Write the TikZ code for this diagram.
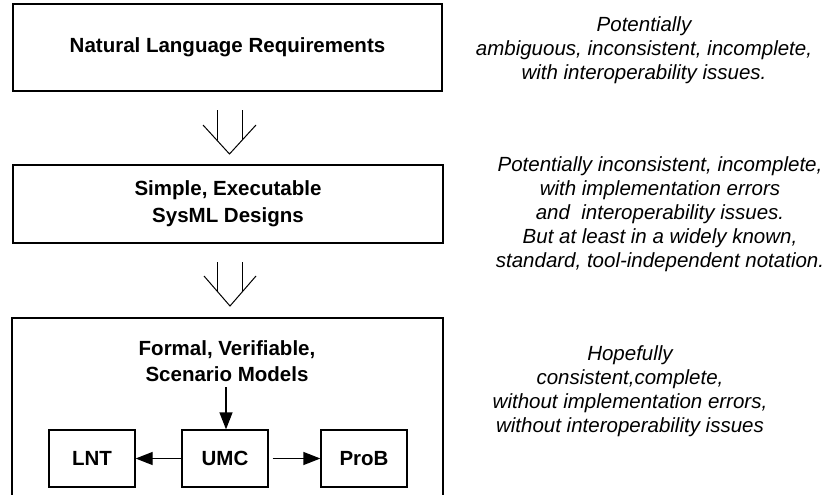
\documentclass[tikz,border=0pt]{standalone}
\usepackage{fontspec}
\setmainfont{Liberation Sans}
\usetikzlibrary{arrows.meta}
\tikzset{
  bigbox/.style={draw, line width=1.3pt, inner sep=0pt, align=center, font=\fontsize{20.5}{27}\selectfont\bfseries},
  smallbox/.style={draw, line width=1.3pt, minimum width=86pt, minimum height=57pt, inner sep=0pt, font=\fontsize{20.5}{24}\selectfont\bfseries},
  note/.style={align=center, font=\fontsize{20.5}{24}\selectfont\itshape},
  title/.style={align=center, font=\fontsize{20.5}{26}\selectfont\bfseries},
  flow/.style={line width=1.3pt, -{Triangle[length=17pt,width=13pt]}},
  hollow/.style={line width=1pt}
}
\begin{document}
\begin{tikzpicture}[x=1pt,y=-1pt]
\useasboundingbox (0,0) rectangle (830,495);
\clip (0,0) rectangle (830,495);
% main boxes
\node[bigbox, minimum width=429pt, minimum height=87pt] (b1) at (227.5,47.5) {Natural Language Requirements};
\node[bigbox, minimum width=430pt, minimum height=78pt] (b2) at (228,204) {Simple, Executable\\SysML Designs};
\node[bigbox, minimum width=431pt, minimum height=210pt] (b3) at (227.5,423) {};
\node[title] (t3) at (227,361) {Formal, Verifiable,\\Scenario Models};
% inner boxes
\node[smallbox] (lnt) at (92,458.5) {LNT};
\node[smallbox] (umc) at (225,458.5) {UMC};
\node[smallbox] (prob) at (364,458.5) {ProB};
\coordinate (ts) at (226,387);
\draw[flow] (ts) -- (ts |- umc.north);
\draw[flow] (umc.west) -- (lnt.east);
\draw[flow, shorten <=4pt] (umc.east) -- (prob.west);
% hollow arrows
\coordinate (h1) at (229.5,154);
\draw[hollow] (217,110) -- (217,140);
\draw[hollow] (242,110) -- (242,140);
\draw[hollow] (203,125) -- (h1) -- (256,125);
\coordinate (h2) at (230,306);
\draw[hollow] (217,262) -- (217,291);
\draw[hollow] (242,262) -- (242,291);
\draw[hollow] (204,276) -- (h2) -- (256,276);
% notes
\node[note] (n1) at (644,50) {Potentially\\ambiguous, inconsistent, incomplete,\\with interoperability issues.};
\node[note] (n2) at (660,214) {Potentially inconsistent, incomplete,\\with implementation errors\\and\ \ interoperability issues.\\But at least in a widely known,\\standard, tool-independent notation.};
\node[note] (n3) at (630,391.5) {Hopefully\\consistent,complete,\\without implementation errors,\\without interoperability issues};
\end{tikzpicture}
\end{document}
